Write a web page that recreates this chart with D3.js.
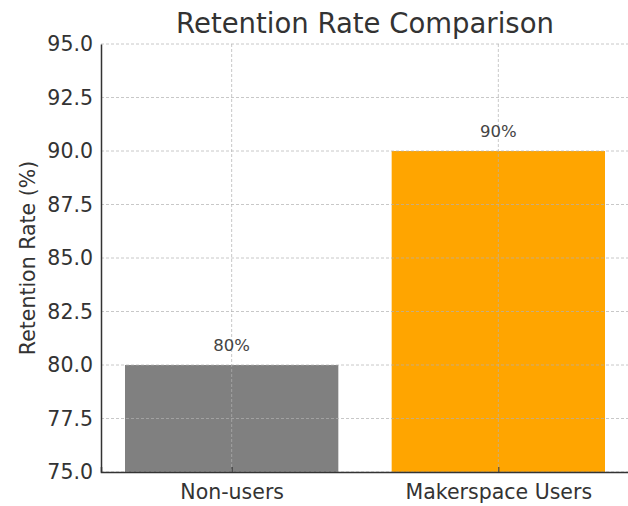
<!DOCTYPE html>
<html>
<head>
<meta charset="utf-8">
<script src="https://cdn.jsdelivr.net/npm/d3@7"></script>
<style>
  body { margin: 0; background: #fff; }
  svg { display: block; font-family: "DejaVu Sans", sans-serif; }
</style>
</head>
<body>
<svg id="chart" width="628" height="506"></svg>
<script>
// datos del grafico
const categories = ['Non-users', 'Makerspace Users'];
const rates = [80, 90];
const barColors = ['#808080', '#FFA500'];
const yTicks = [75, 77.5, 80, 82.5, 85, 87.5, 90, 92.5, 95];

const W = 628, H = 506;
const margin = { top: 44, left: 101, bottom: 34 };
// el eje derecho queda fuera del lienzo, como en la imagen original
const plotRight = 629;

const svg = d3.select('#chart');

// escala x estilo matplotlib: barras de 0.8 y margen de 0.05
const x = d3.scaleLinear()
    .domain([-0.49, categories.length - 1 + 0.49])
    .range([margin.left, plotRight]);
const barW = x(0.8) - x(0);

const y = d3.scaleLinear()
    .domain([75, 95])
    .range([H - margin.bottom, margin.top]);

// barras
svg.selectAll('.bar')
    .data(rates)
    .enter()
    .append('rect')
    .attr('class', 'bar')
    .attr('x', (d, i) => x(i) - barW / 2)
    .attr('y', d => y(d))
    .attr('width', barW)
    .attr('height', d => y(75) - y(d))
    .attr('fill', (d, i) => barColors[i]);

// rejilla punteada por encima de las barras
const grid = svg.append('g').attr('class', 'grid')
    .attr('stroke', '#b0b0b0')
    .attr('stroke-opacity', 0.7)
    .attr('stroke-width', 1)
    .attr('stroke-dasharray', '3,2');

grid.selectAll('.hgrid')
    .data(yTicks)
    .enter()
    .append('line')
    .attr('x1', margin.left).attr('x2', plotRight)
    .attr('y1', d => y(d)).attr('y2', d => y(d));

grid.selectAll('.vgrid')
    .data(categories)
    .enter()
    .append('line')
    .attr('x1', (d, i) => x(i)).attr('x2', (d, i) => x(i))
    .attr('y1', margin.top).attr('y2', y(75));

// eje y
const yAxis = svg.append('g')
    .attr('transform', `translate(${margin.left},0)`)
    .call(d3.axisLeft(y).tickValues(yTicks).tickFormat(d3.format('.1f')).tickSize(0).tickPadding(8));
yAxis.select('.domain').attr('stroke', '#333').attr('stroke-width', 1.5);
yAxis.selectAll('text')
    .attr('font-size', 20.5)
    .attr('fill', '#333')
    .attr('font-family', '"DejaVu Sans", sans-serif');

// eje x
const xAxis = svg.append('g')
    .attr('transform', `translate(0,${y(75)})`)
    .call(d3.axisBottom(x).tickValues(d3.range(categories.length))
        .tickFormat(i => categories[i]).tickSize(-5).tickPadding(12));
xAxis.select('.domain').attr('stroke', '#333').attr('stroke-width', 1.5);
xAxis.selectAll('.tick line').attr('stroke', '#333');
xAxis.selectAll('text')
    .attr('font-size', 20.5)
    .attr('fill', '#333')
    .attr('font-family', '"DejaVu Sans", sans-serif');

// etiquetas sobre las barras
svg.selectAll('.bar-label')
    .data(rates)
    .enter()
    .append('text')
    .attr('class', 'bar-label')
    .attr('x', (d, i) => x(i))
    .attr('y', d => y(d) - 14)
    .attr('text-anchor', 'middle')
    .attr('font-size', 16.5)
    .attr('fill', '#444')
    .text(d => d + '%');

// titulo
svg.append('text')
    .attr('x', (margin.left + plotRight) / 2)
    .attr('y', 33)
    .attr('text-anchor', 'middle')
    .attr('font-size', 27.5)
    .attr('fill', '#333')
    .text('Retention Rate Comparison');

// titulo del eje y
svg.append('text')
    .attr('transform', `translate(35,${y(85)}) rotate(-90)`)
    .attr('text-anchor', 'middle')
    .attr('font-size', 20.5)
    .attr('fill', '#333')
    .text('Retention Rate (%)');
</script>
</body>
</html>
